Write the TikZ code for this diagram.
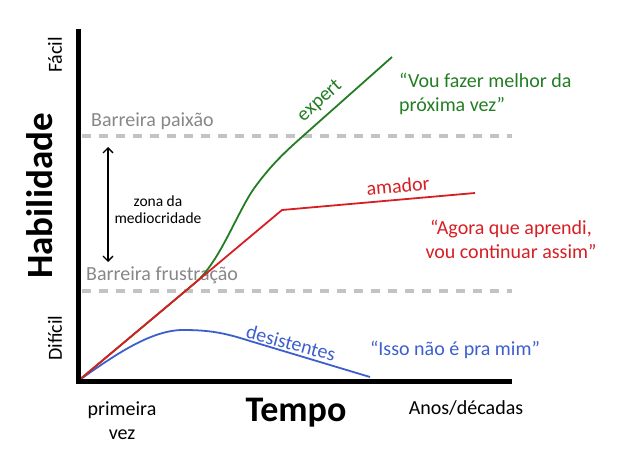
\documentclass[tikz,border=0pt]{standalone}
\usepackage{fontspec}
\setmainfont{Carlito}
\usetikzlibrary{arrows.meta}
\definecolor{expertgreen}{RGB}{35,125,35}
\definecolor{amadorred}{RGB}{215,30,35}
\definecolor{desistblue}{RGB}{60,95,205}
\definecolor{barreiragray}{RGB}{135,135,135}
\definecolor{dashgray}{RGB}{195,195,195}
\tikzstyle{arrow} = [line width=1.4pt,{Straight Barb[length=5pt,width=10pt]}-{Straight Barb[length=5pt,width=10pt]}]
\tikzstyle{barreira} = [dashgray,line width=3.5pt,dash pattern=on 9pt off 8pt]
\tikzstyle{curve} = [line width=1.8pt,line join=round]
\tikzstyle{label} = [inner sep=0pt,font=\fontsize{20}{24}\selectfont]

\begin{document}
\begin{tikzpicture}[x=1pt,y=-1pt]
                        \useasboundingbox (0,0) rectangle (620,465);
                        \coordinate (origem) at (78,381);
                        % barreiras
                        \draw[barreira] (82,136) -- (512,136);
                        \draw[barreira] (82,291) -- (512,291);
                        \node[label,barreiragray,anchor=west] (paixao) at (91,121) {Barreira paixão};
                        \node[label,barreiragray,anchor=west] (frustracao) at (86,275) {Barreira frustração};
                        % curvas
                        \draw[curve,desistblue] (origem) .. controls (112,357) and (150,330) .. (183,330)
                            .. controls (210,330) and (225,333) .. (250,341) -- (370,377);
                        \draw[curve,expertgreen] (origem) -- (195,283) .. controls (220,262) and (237,212) .. (255,187)
                            .. controls (272,164) and (285,152) .. (303,136) -- (392,57);
                        \draw[curve,amadorred] (origem) -- (282,210) -- (475,193);
                        % eixos
                        \draw[line width=5pt] (78,29) -- (origem) -- (512,381);
                        \node[label,rotate=90] (facil) at (55,55) {Fácil};
                        \node[label,rotate=90] (dificil) at (55,338) {Difícil};
                        \node[inner sep=0pt,rotate=90,font=\fontsize{37}{40}\bfseries] (habilidade) at (40,196) {Habilidade};
                        \node[inner sep=0pt,font=\fontsize{36}{40}\bfseries] (tempo) at (296,413) {Tempo};
                        \node[label,align=center] (primeira) at (122,421) {primeira\\vez};
                        \node[label] (anos) at (466,408) {Anos/décadas};
                        % zona da mediocridade
                        \coordinate (zonatopo) at (108,147);
                        \coordinate (zonabase) at (108,262);
                        \draw[arrow] (zonatopo) -- (zonabase);
                        \node[inner sep=0pt,align=center,font=\fontsize{15.5}{17}\selectfont] (zona) at (158,210) {zona da\\mediocridade};
                        % rotulos das curvas
                        \node[label,expertgreen,rotate=42] (expert) at (320,101) {expert};
                        \node[label,amadorred,rotate=5] (amador) at (398,186) {amador};
                        \node[label,desistblue,rotate=-15] (desistentes) at (291,343) {desistentes};
                        \node[label,expertgreen,align=left,anchor=west] (frasexpert) at (399,94) {“Vou fazer melhor da\\próxima vez”};
                        \node[label,amadorred,align=center] (fraseamador) at (511,239) {“Agora que aprendi,\\vou continuar assim”};
                        \node[label,desistblue] (frasedesist) at (455,350) {“Isso não é pra mim”};
                    \end{tikzpicture}
\end{document}
